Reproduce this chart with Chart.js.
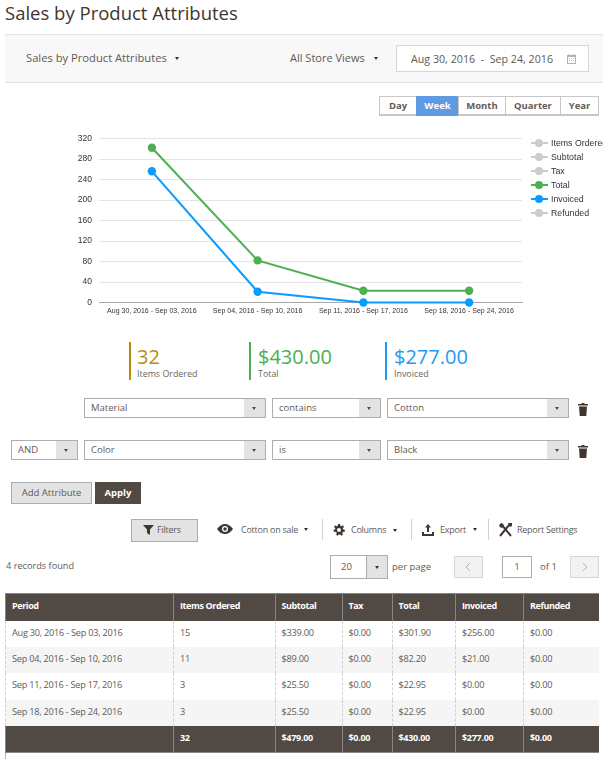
<!DOCTYPE html>
<html>
<head>
<meta charset="utf-8">
<title>Sales by Product Attributes</title>
<script src="https://cdn.jsdelivr.net/npm/chart.js@4.4.5/dist/chart.umd.min.js"></script>
<style>
html, body { margin: 0; padding: 0; background: #fff; }
body { width: 603px; height: 759px; overflow: hidden; position: relative; font-family: "Open Sans", sans-serif; font-size: 9.5px; color: #5f5a56; }
.a { position: absolute; white-space: nowrap; }
.t { position: absolute; white-space: nowrap; line-height: 14px; }
.tool { font-size: 9px; letter-spacing: -0.25px; }
.caret { position: absolute; width: 0; height: 0; border-left: 2.5px solid transparent; border-right: 2.5px solid transparent; border-top: 3px solid #333; }
.sel { position: absolute; box-sizing: border-box; border: 1px solid #adadad; background: #fff; height: 20px; line-height: 17px; padding-left: 6px; color: #5f5a56; }
.sel i { position: absolute; right: 0; top: 0; bottom: 0; width: 21px; background: #e3e3e3; }
.sel i::after { content: ""; position: absolute; left: 8px; top: 8px; border-left: 2.5px solid transparent; border-right: 2.5px solid transparent; border-top: 3px solid #514943; }
.sep { position: absolute; width: 1px; top: 519px; height: 21px; background: #d1d1d1; }
.pill { position: absolute; top: 96px; height: 20px; box-sizing: border-box; border: 1px solid #c8c8c8; border-bottom-width: 2px; background: #fff; text-align: center; font-weight: 700; line-height: 18px; color: #5f5a56; }
.kbar { position: absolute; top: 342px; width: 2px; height: 38px; }
.kval { position: absolute; top: 343px; font-size: 20px; line-height: 28px; }
.klab { position: absolute; top: 367px; line-height: 14px; font-size: 8.9px; color: #6b6662; }
#chart { position: absolute; left: 70px; top: 125px; }
#legend span { position: absolute; left: 551px; font-family: "Liberation Sans", sans-serif; font-size: 8.8px; line-height: 12px; color: #333; white-space: nowrap; }
#legend b { position: absolute; left: 531px; width: 17px; height: 2px; }
#legend u { position: absolute; left: 535px; width: 8px; height: 8px; border-radius: 50%; }
#grid { position: absolute; left: 5px; top: 593px; width: 593px; border-collapse: collapse; table-layout: fixed; }
#grid th, #grid td { padding: 0 0 0 6px; text-align: left; box-sizing: border-box; white-space: nowrap; }
#grid th { height: 27px; background: #514943; color: #fff; font-size: 9px; letter-spacing: -0.4px; font-weight: 700; border-left: 1px solid #8a837f; border-top: 1px solid #8a837f; padding-bottom: 4px; }
#grid td { height: 26.4px; font-size: 9.2px; letter-spacing: -0.25px; color: #5f5a56; border-left: 1px dashed #d1d1d1; padding-bottom: 3px; }
#grid tbody tr:nth-child(even) td { background: #f5f5f5; }
#grid tfoot td { background: #514943; color: #fff; font-size: 9px; letter-spacing: -0.3px; font-weight: 700; border-left: 1px solid #8a837f; border-bottom: 1px solid #8a837f; }
</style>
</head>
<body>
<div class="t" style="left:5px;top:0;font-size:18.5px;line-height:25px;color:#41362f;">Sales by Product Attributes</div>

<div class="a" style="left:5px;top:34px;width:598px;height:49px;box-sizing:border-box;background:#f8f8f8;border-top:1px solid #e3e3e3;border-bottom:1px solid #e3e3e3;"></div>
<div class="t" style="left:26px;top:51px;font-size:11.2px;">Sales by Product Attributes</div>
<div class="caret" style="left:175px;top:57px;"></div>
<div class="t" style="left:290px;top:51px;font-size:11px;">All Store Views</div>
<div class="caret" style="left:374px;top:57px;"></div>
<div class="a" style="left:396px;top:45px;width:193px;height:27px;box-sizing:border-box;background:#fff;border:1px solid #d6d6d6;"></div>
<div class="t" style="left:411px;top:52px;font-size:10.7px;">Aug 30, 2016&nbsp; -&nbsp; Sep 24, 2016</div>
<svg class="a" style="left:567px;top:54px;" width="9" height="10" viewBox="0 0 9 10"><path fill="#b5b1ad" d="M0 1h1.5V0h1v1h4V0h1v1H9v9H0zM1 3v6h7V3z M2 4h1v1H2zM4 4h1v1H4zM6 4h1v1H6zM2 6h1v1H2zM4 6h1v1H4zM6 6h1v1H6z"/></svg>

<div class="pill" style="left:379px;width:38px;">Day</div>
<div class="pill" style="left:416px;width:43px;background:#5f9be3;border-color:#5f9be3;color:#fff;">Week</div>
<div class="pill" style="left:458px;width:48px;">Month</div>
<div class="pill" style="left:505px;width:56px;">Quarter</div>
<div class="pill" style="left:560px;width:39px;">Year</div>

<canvas id="chart" width="533" height="200" style="width:533px;height:200px;"></canvas>
<div id="legend"></div>

<div class="kbar" style="left:129px;background:#b58c10;"></div>
<div class="kval" style="left:137px;color:#b58c10;">32</div>
<div class="klab" style="left:137px;">Items Ordered</div>
<div class="kbar" style="left:249px;background:#4caf50;"></div>
<div class="kval" style="left:258px;color:#4caf50;">$430.00</div>
<div class="klab" style="left:258px;">Total</div>
<div class="kbar" style="left:385px;background:#1e9bf0;"></div>
<div class="kval" style="left:394px;color:#1e9bf0;">$277.00</div>
<div class="klab" style="left:394px;">Invoiced</div>

<div class="sel" style="left:84px;top:398px;width:182px;">Material<i></i></div>
<div class="sel" style="left:272px;top:398px;width:109px;">contains<i></i></div>
<div class="sel" style="left:387px;top:398px;width:182px;">Cotton<i></i></div>
<svg class="a" style="left:578px;top:403px;" width="10" height="13" viewBox="0 0 10 13"><path fill="#41362f" d="M3.5 0h3v1H10v1.5H0V1h3.5zM1 3.5h8L8.3 13H1.7z"/></svg>
<div class="sel" style="left:11px;top:440px;width:67px;">AND<i></i></div>
<div class="sel" style="left:84px;top:440px;width:182px;">Color<i></i></div>
<div class="sel" style="left:272px;top:440px;width:109px;">is<i></i></div>
<div class="sel" style="left:387px;top:440px;width:182px;">Black<i></i></div>
<svg class="a" style="left:578px;top:445px;" width="10" height="13" viewBox="0 0 10 13"><path fill="#41362f" d="M3.5 0h3v1H10v1.5H0V1h3.5zM1 3.5h8L8.3 13H1.7z"/></svg>

<div class="a" style="left:11px;top:482px;width:81px;height:22px;box-sizing:border-box;background:#e3e3e3;border:1px solid #adadad;text-align:center;line-height:20px;">Add Attribute</div>
<div class="a" style="left:95px;top:482px;width:46px;height:22px;background:#514943;color:#fff;font-weight:700;text-align:center;line-height:22px;">Apply</div>

<div class="a" style="left:131px;top:519px;width:67px;height:23px;box-sizing:border-box;background:#e3e3e3;border:1px solid #adadad;"></div>
<svg class="a" style="left:143px;top:525px;" width="11" height="10" viewBox="0 0 11 10"><path fill="#41362f" d="M0 0h11L7 4.5V10L4 8V4.5z"/></svg>
<div class="t tool" style="left:157px;top:523px;">Filters</div>
<svg class="a" style="left:217px;top:524px;" width="16" height="10" viewBox="0 0 16 10"><path fill="#41362f" fill-rule="evenodd" d="M0 5C2 2 5 0 8 0s6 2 8 5c-2 3-5 5-8 5S2 8 0 5zm8 3a3 3 0 1 0 0-6 3 3 0 0 0 0 6z"/><circle cx="8" cy="5" r="1.7" fill="#41362f"/></svg>
<div class="t tool" style="left:241px;top:523px;">Cotton on sale</div>
<div class="caret" style="left:304px;top:528px;"></div>
<div class="sep" style="left:322px;"></div>
<svg class="a" style="left:333px;top:524px;" width="12" height="12" viewBox="0 0 12 12"><path fill="#41362f" fill-rule="evenodd" d="M5 0h2l.3 1.700 1.300.6L10 1.300 11 3 9.800 4.100l.2 1.200L12 6l-.4 1.800-1.700.2-.7 1.200.8 1.500-1.600 1-1.200-1.200H5.800L4.600 11.700 3 10.700l.8-1.500-.7-1.200L1 7.800 .4 6l1.700-.7.2-1.200L1 3l1-1.700 1.400 1 1.300-.6zM6 8a2 2 0 1 0 0-4 2 2 0 0 0 0 4z"/></svg>
<div class="t tool" style="left:351px;top:523px;">Columns</div>
<div class="caret" style="left:393px;top:529px;"></div>
<div class="sep" style="left:411px;"></div>
<svg class="a" style="left:422px;top:524px;" width="12" height="12" viewBox="0 0 12 12"><path fill="#41362f" d="M6 0l3 3.500H7V8H5V3.500H3zM0 8h2v2h8V8h2v4H0z"/></svg>
<div class="t tool" style="left:440px;top:523px;">Export</div>
<div class="caret" style="left:473px;top:528px;"></div>
<div class="sep" style="left:488px;"></div>
<svg class="a" style="left:499px;top:523px;" width="13" height="14" viewBox="0 0 13 14"><path stroke="#41362f" stroke-width="2" fill="none" d="M2 1l10 12M11 1L1 13"/><circle cx="2.500" cy="2.500" r="2.200" fill="#41362f"/><path fill="#41362f" d="M9 0h4v3l-2 1z"/></svg>
<div class="t tool" style="left:517px;top:523px;">Report Settings</div>

<div class="t" style="left:6px;top:559px;font-size:9.2px;">4 records found</div>
<div class="a" style="left:330px;top:555px;width:58px;height:24px;box-sizing:border-box;background:#fff;border:1px solid #adadad;line-height:22px;padding-left:10px;">20</div>
<div class="a" style="left:366px;top:556px;width:21px;height:22px;background:#e3e3e3;border-left:1px solid #adadad;box-sizing:border-box;"></div>
<div class="caret" style="left:375px;top:566px;"></div>
<div class="t" style="left:392px;top:560px;">per page</div>
<div class="a" style="left:454px;top:556px;width:29px;height:22px;box-sizing:border-box;background:#f2f2f2;border:1px solid #d6d6d6;"></div>
<svg class="a" style="left:465px;top:562px;" width="6" height="10" viewBox="0 0 6 10"><path d="M5 1L1 5l4 4" stroke="#b5b1ad" fill="none"/></svg>
<div class="a" style="left:502px;top:556px;width:30px;height:22px;box-sizing:border-box;background:#fff;border:1px solid #adadad;text-align:center;line-height:20px;">1</div>
<div class="t" style="left:540px;top:560px;">of 1</div>
<div class="a" style="left:570px;top:556px;width:29px;height:22px;box-sizing:border-box;background:#f2f2f2;border:1px solid #d6d6d6;"></div>
<svg class="a" style="left:582px;top:562px;" width="6" height="10" viewBox="0 0 6 10"><path d="M1 1l4 4-4 4" stroke="#b5b1ad" fill="none"/></svg>

<div class="a" style="left:5px;top:726px;width:1px;height:33px;background:#adadad;"></div>
<table id="grid"><thead></thead><tbody></tbody><tfoot></tfoot></table>

<script>
// report data
const periods = ['Aug 30, 2016 - Sep 03, 2016', 'Sep 04, 2016 - Sep 10, 2016', 'Sep 11, 2016 - Sep 17, 2016', 'Sep 18, 2016 - Sep 24, 2016'];
const itemsOrdered = [15, 11, 3, 3];
const subtotal = [339, 89, 25.5, 25.5];
const tax = [0, 0, 0, 0];
const total = [301.9, 82.2, 22.95, 22.95];
const invoiced = [256, 21, 0, 0];
const refunded = [0, 0, 0, 0];
const yTicks = [0, 40, 80, 120, 160, 200, 240, 280, 320];
const columnNames = ['Period', 'Items Ordered', 'Subtotal', 'Tax', 'Total', 'Invoiced', 'Refunded'];
const totalsRow = ['', '32', '$479.00', '$0.00', '$430.00', '$277.00', '$0.00'];
const columnWidths = [168, 101.5, 67, 50, 63.5, 68, 75];

const GREEN = '#4caf50';
const BLUE = '#0a9bff';
const GREY = '#cccccc';

const series = [
    { label: 'Items Ordered', data: itemsOrdered, color: GREY, hidden: true },
    { label: 'Subtotal', data: subtotal, color: GREY, hidden: true },
    { label: 'Tax', data: tax, color: GREY, hidden: true },
    { label: 'Total', data: total, color: GREEN, hidden: false },
    { label: 'Invoiced', data: invoiced, color: BLUE, hidden: false },
    { label: 'Refunded', data: refunded, color: GREY, hidden: true }
];

new Chart(document.getElementById('chart'), {
    type: 'line',
    data: {
        labels: periods,
        datasets: series.map(s => ({
            label: s.label,
            data: s.data,
            hidden: s.hidden,
            borderColor: s.color,
            backgroundColor: s.color,
            borderWidth: 2,
            pointRadius: 4.2,
            pointBorderWidth: 0,
            tension: 0,
            clip: false
        }))
    },
    options: {
        responsive: false,
        animation: false,
        devicePixelRatio: 1,
        layout: { padding: { left: 0, right: 81, top: 13.5, bottom: 0 } },
        plugins: { legend: { display: false }, tooltip: { enabled: false } },
        scales: {
            x: {
                offset: true,
                grid: { display: false, drawTicks: false },
                border: { color: '#a8a8a8', width: 1 },
                afterFit: scale => { scale.height = 22.5; },
                ticks: { color: '#333', font: { family: 'Liberation Sans', size: 7 }, maxRotation: 0, autoSkip: false, padding: 4 }
            },
            y: {
                min: 0,
                max: 320,
                afterFit: scale => { scale.width = 29; },
                afterBuildTicks: scale => { scale.ticks = yTicks.map(v => ({ value: v })); },
                grid: { color: '#e4e4e4', lineWidth: 1, drawTicks: false },
                border: { display: false },
                ticks: { color: '#333', font: { family: 'Liberation Sans', size: 8.5 }, padding: 7 }
            }
        }
    }
});

// legend next to the plot
const legend = document.getElementById('legend');
series.forEach((s, i) => {
    const y = 142.5 + i * 14;
    legend.innerHTML += `<b style="top:${y - 1}px;background:${s.color}"></b><u style="top:${y - 4}px;background:${s.color}"></u><span style="top:${y - 6}px">${s.label}</span>`;
});

// table below the chart
const money = v => '$' + v.toFixed(2);
const grid = document.getElementById('grid');
grid.insertAdjacentHTML('afterbegin', '<colgroup>' + columnWidths.map(w => `<col style="width:${w}px">`).join('') + '</colgroup>');
grid.tHead.innerHTML = '<tr>' + columnNames.map(c => `<th>${c}</th>`).join('') + '</tr>';
grid.tBodies[0].innerHTML = periods.map((p, i) => '<tr>' + [p, itemsOrdered[i], money(subtotal[i]), money(tax[i]), money(total[i]), money(invoiced[i]), money(refunded[i])].map(c => `<td>${c}</td>`).join('') + '</tr>').join('');
grid.tFoot.innerHTML = '<tr>' + totalsRow.map(c => `<td>${c}</td>`).join('') + '</tr>';
</script>
</body>
</html>
